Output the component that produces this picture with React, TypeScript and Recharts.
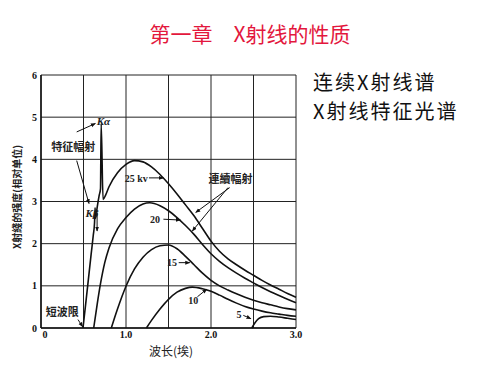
import { LineChart, Line, XAxis, YAxis, CartesianGrid, ReferenceLine, ReferenceDot } from "recharts";

// curves: [wavelength (Å), intensity]
const kv25: [number, number][] = [
  [0.494, 0], [0.53, 0.65], [0.56, 1.2], [0.59, 1.75], [0.615, 2.2], [0.63, 2.5],
  [0.636, 2.85], [0.642, 2.6], [0.66, 2.85], [0.685, 3.15], [0.7, 3.3], [0.708, 4.85],
  [0.73, 3.05], [0.76, 3.15], [0.8, 3.35], [0.9, 3.68], [1.0, 3.88], [1.1, 3.97],
  [1.2, 3.94], [1.3, 3.82], [1.4, 3.64], [1.5, 3.42], [1.6, 3.18], [1.7, 2.92],
  [1.8, 2.66], [1.9, 2.36], [2.0, 2.06], [2.1, 1.82], [2.2, 1.64], [2.3, 1.5],
  [2.4, 1.37], [2.5, 1.25], [2.6, 1.13], [2.7, 1.02], [2.8, 0.92], [2.9, 0.82], [3.0, 0.73],
];
const kv20: [number, number][] = [
  [0.62, 0], [0.66, 0.55], [0.7, 1.05], [0.75, 1.55], [0.8, 1.9], [0.9, 2.35],
  [1.0, 2.62], [1.1, 2.82], [1.2, 2.94], [1.28, 2.97], [1.4, 2.9], [1.5, 2.78],
  [1.6, 2.62], [1.7, 2.43], [1.8, 2.22], [1.9, 1.98], [2.0, 1.76], [2.1, 1.58],
  [2.2, 1.43], [2.3, 1.3], [2.4, 1.18], [2.5, 1.07], [2.6, 0.96], [2.7, 0.86],
  [2.8, 0.77], [2.9, 0.68], [3.0, 0.6],
];
const kv15: [number, number][] = [
  [0.827, 0], [0.9, 0.45], [1.0, 0.99], [1.1, 1.4], [1.2, 1.68], [1.3, 1.86],
  [1.4, 1.95], [1.5, 1.97], [1.6, 1.88], [1.7, 1.7], [1.8, 1.5], [1.9, 1.3],
  [2.0, 1.13], [2.1, 1.0], [2.2, 0.9], [2.3, 0.81], [2.4, 0.73], [2.5, 0.66],
  [2.6, 0.6], [2.7, 0.55], [2.8, 0.5], [2.9, 0.46], [3.0, 0.43],
];
const kv10: [number, number][] = [
  [1.24, 0], [1.3, 0.18], [1.4, 0.45], [1.5, 0.68], [1.6, 0.85], [1.7, 0.94],
  [1.78, 0.97], [1.9, 0.93], [2.0, 0.87], [2.1, 0.78], [2.2, 0.68], [2.3, 0.59],
  [2.4, 0.51], [2.5, 0.45], [2.6, 0.4], [2.7, 0.36], [2.8, 0.33], [2.9, 0.3], [3.0, 0.28],
];
const kv5: [number, number][] = [
  [2.48, 0], [2.52, 0.13], [2.56, 0.22], [2.62, 0.27], [2.7, 0.28], [2.8, 0.26],
  [2.9, 0.23], [3.0, 0.2],
];
const curves = [kv25, kv20, kv15, kv10, kv5];

const xTicks = [0, 0.5, 1, 1.5, 2, 2.5, 3];
const yTicks = [0, 1, 2, 3, 4, 5, 6];

// text notes inside the plot: [text, x, y]
const notes: [string, number, number][] = [
  ["特征幅射", 0.38, 4.28],
  ["25 kv", 1.12, 3.55],
  ["20", 1.34, 2.58],
  ["15", 1.54, 1.55],
  ["10", 1.79, 0.66],
  ["5", 2.33, 0.32],
  ["連續幅射", 2.23, 3.52],
  ["短波限", 0.25, 0.38],
];
// arrows: [x1, y1, x2, y2]
const arrows: [number, number, number, number][] = [
  [0.42, 4.65, 0.64, 4.85],
  [0.42, 3.97, 0.565, 2.95],
  [0.66, 2.72, 0.66, 2.3],
  [1.27, 3.56, 1.44, 3.56],
  [1.44, 2.58, 1.64, 2.56],
  [1.62, 1.55, 1.75, 1.55],
  [1.84, 0.74, 1.95, 0.92],
  [2.38, 0.3, 2.47, 0.22],
  [2.22, 3.33, 1.82, 2.74],
  [2.2, 3.33, 1.78, 2.3],
  [0.435, 0.2, 0.49, 0.03],
];

const cjk = '"Noto Sans CJK SC", "Noto Sans", sans-serif';
const serif = '"Liberation Serif", "DejaVu Serif", serif';

const XTick = (props: any) => {
  const { x, y, payload } = props;
  const v = payload.value;
  if (v % 1 !== 0) return null;
  return (
    <text x={v === 0 ? x + 4 : x} y={y} dy="0.71em" textAnchor="middle" fontSize={10} fontWeight="bold" fontFamily={serif} fill="#111">
      {v === 0 ? "0" : v.toFixed(1)}
    </text>
  );
};

const YTick = (props: any) => {
  const { x, y, payload } = props;
  return (
    <text x={x} y={y} dy="0.35em" textAnchor="end" fontSize={10} fontWeight="bold" fontFamily={serif} fill="#111">
      {payload.value}
    </text>
  );
};

export default function App() {
  return (
    <div style={{ position: "absolute", left: 0, top: 0, width: 500, height: 375, background: "#fff" }}>
      <div style={{ position: "absolute", left: 0, top: 20, width: 500, textAlign: "center", fontFamily: cjk, fontSize: 21, color: "#e3173d", lineHeight: "26px" }}>
        第一章　X射线的性质
      </div>
      <div style={{ position: "absolute", left: 313, top: 67, fontFamily: cjk, fontSize: 20, letterSpacing: 2, color: "#111", lineHeight: "29px" }}>
        <div>连续X射线谱</div>
        <div>X射线特征光谱</div>
      </div>
      <div style={{ position: "absolute", left: 16, top: 197, transform: "translate(-50%, -50%) rotate(-90deg)", whiteSpace: "nowrap", fontFamily: cjk, fontSize: 10, fontWeight: "bold", color: "#222" }}>
        X射綫的强度(相对单位)
      </div>
      <div style={{ position: "absolute", left: 171, top: 350, transform: "translate(-50%, -50%)", whiteSpace: "nowrap", fontFamily: cjk, fontSize: 12, color: "#222" }}>
        波长(埃)
      </div>
      <div style={{ position: "absolute", left: 0, top: 0 }}>
        <LineChart width={500} height={375} margin={{ top: 75, left: 11, right: 204, bottom: 27 }}>
          <defs>
            <marker id="arr" viewBox="0 0 10 10" refX="9" refY="5" markerWidth="5" markerHeight="5" orient="auto">
              <path d="M0,1 L10,5 L0,9 z" fill="#111" />
            </marker>
          </defs>
          <CartesianGrid stroke="#222" strokeWidth={1} />
          <XAxis
            type="number"
            dataKey="x"
            domain={[0, 3]}
            ticks={xTicks}
            height={20}
            tickLine={false}
            tickSize={2}
            tickMargin={1}
            axisLine={{ stroke: "#111", strokeWidth: 1.5 }}
            tick={<XTick />}
            interval={0}
            allowDuplicatedCategory={false}
          />
          <YAxis
            type="number"
            dataKey="y"
            domain={[0, 6]}
            ticks={yTicks}
            width={30}
            tickLine={false}
            tickSize={3}
            tickMargin={1}
            interval={0}
            axisLine={{ stroke: "#111", strokeWidth: 1.5 }}
            tick={<YTick />}
          />
          {curves.map((c, i) => (
            <Line
              key={i}
              data={c.map(([x, y]) => ({ x, y }))}
              dataKey="y"
              type="monotone"
              stroke="#111"
              strokeWidth={1.6}
              dot={false}
              isAnimationActive={false}
            />
          ))}
          {arrows.map(([x1, y1, x2, y2], i) => (
            <ReferenceLine
              key={"a" + i}
              segment={[{ x: x1, y: y1 }, { x: x2, y: y2 }]}
              stroke="#111"
              strokeWidth={1}
              markerEnd="url(#arr)"
            />
          ))}
          {notes.map(([t, x, y], i) => (
            <ReferenceDot
              key={"n" + i}
              x={x}
              y={y}
              r={0}
              shape={(p: any) => (
                <text x={p.cx} y={p.cy} dy="0.35em" textAnchor="middle" fontSize={/[0-9]/.test(t) ? 10 : 11} fontWeight="bold" fontFamily={/[0-9]/.test(t) ? serif : cjk} fill="#222">
                  {t}
                </text>
              )}
            />
          ))}
          <ReferenceDot
            x={0.735}
            y={4.9}
            r={0}
            shape={(p: any) => (
              <text x={p.cx} y={p.cy} dy="0.35em" textAnchor="middle" fontSize={11} fontWeight="bold" fontStyle="italic" fontFamily={serif} fill="#222">
                Kα
              </text>
            )}
          />
          <ReferenceDot
            x={0.6}
            y={2.72}
            r={0}
            shape={(p: any) => (
              <text x={p.cx} y={p.cy} dy="0.35em" textAnchor="middle" fontSize={11} fontWeight="bold" fontStyle="italic" fontFamily={serif} fill="#222">
                Kβ
              </text>
            )}
          />
        </LineChart>
      </div>
    </div>
  );
}
